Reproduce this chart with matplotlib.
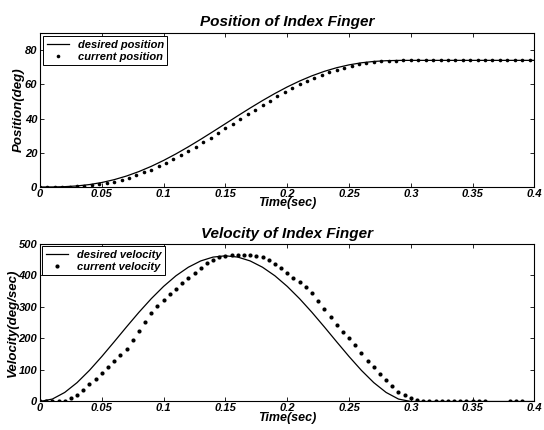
import numpy as np
import matplotlib
matplotlib.use("Agg")
import matplotlib.pyplot as plt

plt.rcParams["font.family"] = ["Liberation Sans", "DejaVu Sans"]
plt.rcParams["font.weight"] = "bold"
plt.rcParams["font.style"] = "italic"
plt.rcParams["axes.titleweight"] = "bold"
plt.rcParams["axes.labelweight"] = "bold"

# sampling steps (sec)
DT_LINE = 0.01
DT_POS_DOTS = 0.006
DT_VEL_DOTS = 0.005

desired_position = [0.0, 0.03, 0.2, 0.63, 1.42, 2.63, 4.29, 6.42, 9.02, 12.07,
                    15.53, 19.36, 23.49, 27.86, 32.39, 37.0, 41.61, 46.14, 50.51, 54.64,
                    58.47, 61.93, 64.98, 67.58, 69.71, 71.37, 72.58, 73.37, 73.8, 73.97,
                    74.0, 74.0, 74.0, 74.0, 74.0, 74.0, 74.0, 74.0, 74.0, 74.0, 74.0]

current_position = [0.0, 0.0, 0.0, 0.0, 0.1, 0.3, 0.6, 1.1, 1.6, 2.4,
                    3.2, 4.3, 5.5, 6.9, 8.5, 10.2, 12.1, 14.1, 16.3, 18.6,
                    21.0, 23.5, 26.1, 28.8, 31.5, 34.2, 37.0, 39.8, 42.5, 45.2,
                    47.9, 50.5, 53.0, 55.4, 57.7, 59.9, 61.9, 63.8, 65.5, 67.1,
                    68.5, 69.7, 70.8, 71.7, 72.4, 72.9, 73.4, 73.7, 73.9, 74.0,
                    74.0, 74.0, 74.0, 74.0, 74.0, 74.0, 74.0, 74.0, 74.0, 74.0,
                    74.0, 74.0, 74.0, 74.0, 74.0, 74.0, 74.0]

desired_velocity = [0.0, 7.7, 28.7, 59.9, 98.8, 142.8, 189.4, 236.8, 283.0, 326.3,
                    365.4, 399.1, 426.2, 446.2, 458.4, 462.5, 458.4, 446.2, 426.2, 399.1,
                    365.4, 326.3, 283.0, 236.8, 189.4, 142.8, 98.8, 59.9, 28.7, 7.7,
                    0.0, 0.0, 0.0, 0.0, 0.0, 0.0, 0.0, 0.0, 0.0, 0.0, 0.0]

nan = float("nan")
current_velocity = [2, 1, 0, 0, 3, 10, 22, 37, 54, 72,
                    90, 108, 127, 146, 168, 195, 224, 252, 280, 303,
                    322, 340, 357, 375, 392, 409, 425, 439, 450, 459,
                    463, 465, 466, 466, 465, 463, 458, 448, 436, 423,
                    408, 393, 378, 362, 344, 320, 295, 268, 244, 222,
                    202, 179, 154, 129, 108, 87, 67, 50, 31, 20,
                    10, 5, 3, 2, 1, 1, 1, 1, 1, 1,
                    1, 1, 1, nan, nan, nan, 1, 1, 1]

x_ticks = [0, 0.05, 0.1, 0.15, 0.2, 0.25, 0.3, 0.35, 0.4]
x_tick_labels = ["0", "0.05", "0.1", "0.15", "0.2", "0.25", "0.3", "0.35", "0.4"]

t_line = np.arange(len(desired_position)) * DT_LINE
t_pos = np.arange(len(current_position)) * DT_POS_DOTS
t_vel = np.arange(len(current_velocity)) * DT_VEL_DOTS

FONT = dict(weight="bold", style="italic")

fig = plt.figure(figsize=(5.44, 4.30), dpi=100)
ax1 = fig.add_axes([0.0735, 0.5651, 0.909, 0.3582])
ax2 = fig.add_axes([0.0735, 0.0663, 0.909, 0.3663])


def style(ax, yticks, ylim):
    ax.set_xlim(0, 0.4)
    ax.set_ylim(*ylim)
    ax.set_xticks(x_ticks)
    ax.set_xticklabels(x_tick_labels, **FONT)
    ax.set_yticks(yticks)
    ax.set_yticklabels([str(v) for v in yticks], **FONT)
    ax.tick_params(direction="in", top=True, right=True, length=3, width=0.6,
                   labelsize=8)
    ax.tick_params(axis="x", pad=1.2)
    ax.tick_params(axis="y", pad=2.0)
    for s in ax.spines.values():
        s.set_linewidth(0.8)
    ax.set_xlabel("Time(sec)", fontsize=9, labelpad=-1, **FONT)


def legend(ax, pad):
    leg = ax.legend(loc="upper left", handlelength=2.0, handletextpad=0.8,
                    borderpad=0.3, labelspacing=0.2, borderaxespad=pad, fancybox=False,
                    framealpha=1, edgecolor="black",
                    prop=dict(family=["Liberation Sans", "DejaVu Sans"], size=8, **FONT))
    leg.get_frame().set_linewidth(0.7)


ax1.plot(t_line, desired_position, color="black", lw=0.9, label="desired position")
ax1.plot(t_pos, current_position, "o", color="black", ms=2.6, mec="none",
         label="current position")
style(ax1, [0, 20, 40, 60, 80], (0, 90))
ax1.set_ylabel("Position(deg)", fontsize=9.5, labelpad=0, **FONT)
ax1.set_title("Position of Index Finger", fontsize=11, pad=5, **FONT)
legend(ax1, 0.3)

ax2.plot(t_line, desired_velocity, color="black", lw=0.9, label="desired velocity")
ax2.plot(t_vel, current_velocity, "o", color="black", ms=3, mec="none",
         label="current velocity")
style(ax2, [0, 100, 200, 300, 400, 500], (0, 500))
ax2.set_ylabel("Velocity(deg/sec)", fontsize=9.5, labelpad=0, **FONT)
ax2.set_title("Velocity of Index Finger", fontsize=11, pad=4, **FONT)
legend(ax2, 0.2)

fig.savefig("out.png", dpi=100)
